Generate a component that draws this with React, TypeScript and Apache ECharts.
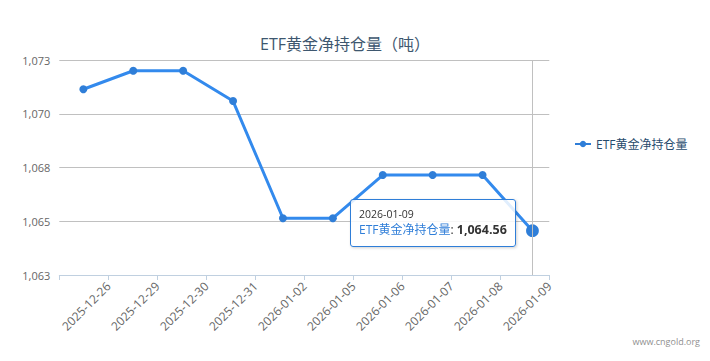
import React, { useEffect, useRef } from "react";
import * as echarts from "echarts";

const chartTitle = "ETF黄金净持仓量（吨）";
const seriesName = "ETF黄金净持仓量";
const dates = [
  "2025-12-26",
  "2025-12-29",
  "2025-12-30",
  "2025-12-31",
  "2026-01-02",
  "2026-01-05",
  "2026-01-06",
  "2026-01-07",
  "2026-01-08",
  "2026-01-09",
];
const holdings = [1071.14, 1072.0, 1072.0, 1070.59, 1065.14, 1065.14, 1067.15, 1067.15, 1067.15, 1064.56];
const yTickLabels = ["1,063", "1,065", "1,068", "1,070", "1,073"];
const watermark = "www.cngold.org";

const FONT = '"Open Sans", "Noto Sans CJK SC", sans-serif';
const BLUE = "#2f7ed8";

function fmt(v: number): string {
  const [i, d] = v.toFixed(2).split(".");
  return i.replace(/\B(?=(\d{3})+(?!\d))/g, ",") + "." + d;
}

export default function App() {
  const ref = useRef<HTMLDivElement>(null);
  useEffect(() => {
    document.body.style.margin = "0";
    if (!ref.current) return;
    const chart = echarts.init(ref.current, undefined, { renderer: "svg" });
    const labelCats = [""].concat(dates);
    chart.setOption({
      animation: false,
      textStyle: { fontFamily: FONT },
      title: {
        text: chartTitle,
        left: 255,
        top: 31,
        textStyle: { fontSize: 16, fontWeight: "normal", color: "#3E576F", fontFamily: FONT, lineHeight: 16 },
      },
      legend: {
        data: [seriesName],
        left: 574,
        top: 138,
        padding: 0,
        itemWidth: 16,
        itemHeight: 8,
        textStyle: { fontSize: 12, color: "#274b6d", fontFamily: FONT },
      },
      grid: [
        { left: 59.3, top: 60, width: 490, height: 215 },
        { left: 58.4, top: 60, width: 499, height: 215 },
      ],
      xAxis: [
        {
          type: "category",
          gridIndex: 0,
          data: labelCats,
          boundaryGap: false,
          axisLine: { lineStyle: { color: "#C0D0E0", width: 1 } },
          axisTick: { show: true, length: 5, lineStyle: { color: "#C0D0E0" } },
          axisLabel: { rotate: 45, interval: 0, margin: 9, fontSize: 12, color: "#666", fontFamily: FONT },
          axisPointer: { show: false },
        },
        {
          type: "category",
          gridIndex: 1,
          data: dates,
          boundaryGap: true,
          show: false,
          axisPointer: {
            type: "line",
            lineStyle: { color: "#C0C0C0", width: 1, type: "solid" },
            label: { show: false },
          },
        },
      ],
      yAxis: [
        {
          type: "value",
          gridIndex: 0,
          min: 1062.5,
          max: 1072.5,
          interval: 2.5,
          axisLine: { show: false },
          axisTick: { show: false },
          splitLine: { lineStyle: { color: "#C0C0C0", width: 1 } },
          axisLabel: {
            margin: 9,
            fontSize: 11,
            color: "#666",
            fontFamily: FONT,
            formatter: (_v: number, idx: number) => yTickLabels[idx] ?? "",
          },
        },
        {
          type: "value",
          gridIndex: 1,
          min: 1062.5,
          max: 1072.5,
          interval: 2.5,
          show: false,
          splitLine: { show: false },
        },
      ],
      tooltip: {
        trigger: "axis",
        alwaysShowContent: true,
        transitionDuration: 0,
        backgroundColor: "rgba(255,255,255,0.85)",
        borderColor: BLUE,
        borderWidth: 1,
        padding: [7, 8],
        extraCssText: "border-radius:3px;box-shadow:1px 1px 3px rgba(0,0,0,0.18);",
        position: () => [350, 199],
        formatter: (params: any) => {
          const p = Array.isArray(params) ? params[0] : params;
          return (
            `<div style="font-family:${FONT.replace(/"/g, "'")};">` +
            `<div style="font-size:10.5px;line-height:14px;color:#333;">${p.axisValue}</div>` +
            `<div style="font-size:12px;line-height:18px;color:#333;"><span style="color:${BLUE}">${p.seriesName}</span>: <b style="font-size:12.5px">${fmt(
              p.value
            )}</b></div></div>`
          );
        },
      },
      graphic: [
        {
          type: "text",
          right: 10,
          top: 337,
          style: { text: watermark, fill: "#909090", font: `9px ${FONT}` },
        },
      ],
      series: [
        {
          name: seriesName,
          type: "line",
          xAxisIndex: 1,
          yAxisIndex: 1,
          data: holdings,
          color: BLUE,
          symbol: "circle",
          symbolSize: 8,
          showAllSymbol: true,
          lineStyle: { width: 3, color: BLUE },
          itemStyle: { color: BLUE },
          emphasis: {
            scale: 1.6,
            lineStyle: { width: 3 },
            itemStyle: { color: BLUE, borderWidth: 0, borderColor: BLUE },
          },
        },
      ],
    });
    chart.dispatchAction({ type: "showTip", seriesIndex: 0, dataIndex: 9 });
    chart.dispatchAction({ type: "highlight", seriesIndex: 0, dataIndex: 9 });
    return () => chart.dispose();
  }, []);
  return <div ref={ref} style={{ position: "relative", width: 710, height: 361, background: "#fff" }} />;
}
